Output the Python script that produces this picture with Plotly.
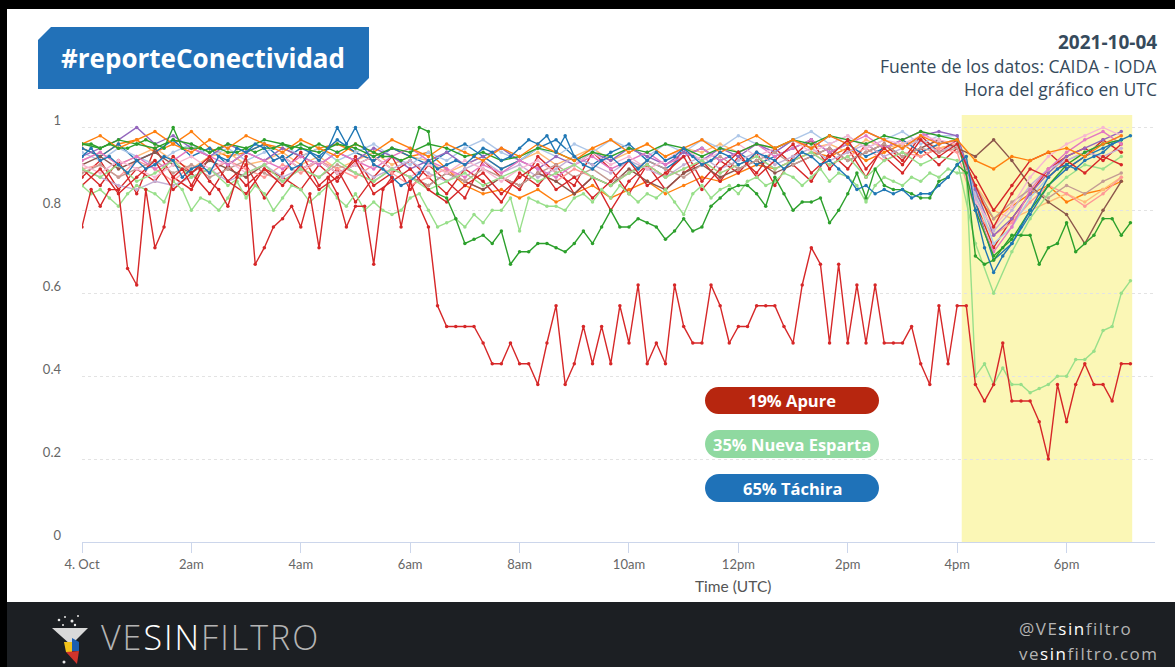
import pandas as pd
import plotly.graph_objects as go

# 10-minute samples, 2021-10-04 00:00 .. 19:10 UTC
times_10 = pd.date_range("2021-10-04 00:00", periods=116, freq="10min")
# 20-minute samples for the background states, 00:00 .. 19:00 UTC
times_20 = pd.date_range("2021-10-04 00:00", periods=58, freq="20min")

apure = [
    0.76, 0.85, 0.81, 0.85, 0.85, 0.66, 0.62, 0.85, 0.71, 0.76,
    0.88, 0.90, 0.86, 0.90, 0.87, 0.85, 0.81, 0.88, 0.93, 0.67,
    0.71, 0.76, 0.78, 0.81, 0.76, 0.84, 0.71, 0.88, 0.84, 0.76,
    0.81, 0.81, 0.67, 0.85, 0.88, 0.76, 0.87, 0.81, 0.76, 0.57,
    0.52, 0.52, 0.52, 0.52, 0.48, 0.43, 0.43, 0.48, 0.43, 0.43,
    0.38, 0.48, 0.57, 0.38, 0.43, 0.52, 0.43, 0.52, 0.43, 0.57,
    0.48, 0.62, 0.43, 0.48, 0.43, 0.62, 0.52, 0.48, 0.48, 0.62,
    0.57, 0.48, 0.52, 0.52, 0.57, 0.57, 0.57, 0.52, 0.48, 0.62,
    0.71, 0.67, 0.48, 0.67, 0.48, 0.62, 0.48, 0.62, 0.48, 0.48,
    0.48, 0.52, 0.43, 0.38, 0.57, 0.43, 0.57, 0.57, 0.38, 0.34,
    0.38, 0.48, 0.34, 0.34, 0.34, 0.29, 0.20, 0.38, 0.29, 0.38,
    0.43, 0.38, 0.38, 0.34, 0.43, 0.43,
]

nueva_esparta = [
    0.86, 0.84, 0.85, 0.83, 0.81, 0.84, 0.86, 0.85, 0.84, 0.82,
    0.87, 0.85, 0.80, 0.83, 0.82, 0.80, 0.83, 0.87, 0.83, 0.86,
    0.84, 0.80, 0.83, 0.86, 0.85, 0.82, 0.84, 0.86, 0.83, 0.81,
    0.84, 0.80, 0.82, 0.80, 0.79, 0.80, 0.83, 0.84, 0.80, 0.76,
    0.77, 0.78, 0.76, 0.79, 0.77, 0.80, 0.80, 0.83, 0.75, 0.83,
    0.82, 0.81, 0.81, 0.80, 0.83, 0.84, 0.82, 0.85, 0.83, 0.86,
    0.84, 0.82, 0.84, 0.83, 0.85, 0.82, 0.79, 0.84, 0.86, 0.83,
    0.85, 0.86, 0.84, 0.87, 0.88, 0.86, 0.87, 0.89, 0.88, 0.86,
    0.88, 0.90, 0.87, 0.89, 0.88, 0.86, 0.82, 0.86, 0.88, 0.87,
    0.86, 0.88, 0.87, 0.89, 0.88, 0.90, 0.89, 0.89, 0.40, 0.43,
    0.38, 0.42, 0.38, 0.38, 0.36, 0.37, 0.38, 0.40, 0.40, 0.44,
    0.44, 0.46, 0.51, 0.52, 0.60, 0.63,
]

tachira = [
    0.93, 0.95, 0.92, 0.93, 0.91, 0.89, 0.92, 0.90, 0.91, 0.93,
    0.92, 0.88, 0.90, 0.91, 0.89, 0.93, 0.92, 0.95, 0.94, 0.96,
    0.95, 0.92, 0.93, 0.90, 0.91, 0.94, 0.92, 0.95, 1.00, 0.96,
    1.00, 0.95, 0.91, 0.90, 0.88, 0.86, 0.87, 0.89, 0.92, 0.90,
    0.91, 0.92, 0.91, 0.93, 0.95, 0.94, 0.92, 0.93, 0.95, 0.97,
    0.96, 0.98, 0.94, 0.98, 0.93, 0.91, 0.90, 0.92, 0.93, 0.91,
    0.92, 0.90, 0.92, 0.94, 0.92, 0.93, 0.95, 0.93, 0.91, 0.92,
    0.94, 0.93, 0.91, 0.92, 0.94, 0.93, 0.92, 0.90, 0.92, 0.94,
    0.93, 0.91, 0.92, 0.90, 0.88, 0.85, 0.86, 0.84, 0.85, 0.84,
    0.85, 0.83, 0.84, 0.84, 0.86, 0.88, 0.91, 0.93, 0.80, 0.71,
    0.65, 0.69, 0.72, 0.76, 0.80, 0.84, 0.88, 0.90, 0.91, 0.90,
    0.92, 0.93, 0.94, 0.96, 0.97, 0.98,
]

dark_green = [
    0.96, 0.96, 0.95, 0.96, 0.95, 0.95, 0.96, 0.97, 0.96, 0.95,
    1.00, 0.95, 0.95, 0.95, 0.94, 0.95, 0.94, 0.94, 0.95, 0.94,
    0.95, 0.95, 0.96, 0.95, 0.96, 0.95, 0.96, 0.95, 0.94, 0.95,
    0.96, 0.95, 0.94, 0.93, 0.93, 0.92, 0.93, 1.00, 0.99, 0.84,
    0.83, 0.78, 0.72, 0.73, 0.74, 0.72, 0.75, 0.67, 0.70, 0.70,
    0.72, 0.72, 0.71, 0.70, 0.72, 0.75, 0.72, 0.76, 0.80, 0.76,
    0.76, 0.78, 0.77, 0.76, 0.73, 0.75, 0.78, 0.75, 0.76, 0.81,
    0.83, 0.85, 0.86, 0.86, 0.84, 0.81, 0.88, 0.84, 0.80, 0.82,
    0.82, 0.83, 0.77, 0.80, 0.84, 0.89, 0.83, 0.90, 0.86, 0.85,
    0.85, 0.84, 0.83, 0.83, 0.87, 0.88, 0.91, 0.89, 0.69, 0.67,
    0.68, 0.71, 0.74, 0.74, 0.74, 0.67, 0.71, 0.72, 0.77, 0.70,
    0.72, 0.74, 0.78, 0.78, 0.74, 0.77,
]

# other states, 20-minute resolution
background = [
    ("#ff7f0e", [
        0.95, 0.93, 0.96, 0.97, 0.94, 0.96, 0.99, 0.95, 0.93, 0.94, 0.96, 0.95,
        0.93, 0.95, 0.96, 0.94, 0.92, 0.95, 0.93, 0.94, 0.90, 0.86, 0.84, 0.85,
        0.83, 0.85, 0.82, 0.84, 0.86, 0.83, 0.85, 0.87, 0.84, 0.86, 0.88, 0.87,
        0.89, 0.91, 0.90, 0.92, 0.94, 0.93, 0.95, 0.92, 0.94, 0.96, 0.93, 0.95,
        0.96, 0.84, 0.78, 0.81, 0.84, 0.86, 0.82, 0.84, 0.85, 0.87]),
    ("#ffbb78", [
        0.92, 0.94, 0.91, 0.93, 0.95, 0.92, 0.90, 0.93, 0.94, 0.91, 0.92, 0.94,
        0.91, 0.93, 0.90, 0.92, 0.94, 0.91, 0.93, 0.92, 0.89, 0.91, 0.93, 0.90,
        0.92, 0.94, 0.91, 0.93, 0.95, 0.92, 0.94, 0.96, 0.93, 0.95, 0.94, 0.96,
        0.94, 0.96, 0.95, 0.97, 0.95, 0.96, 0.94, 0.97, 0.95, 0.96, 0.97, 0.95,
        0.96, 0.86, 0.80, 0.78, 0.80, 0.82, 0.84, 0.82, 0.85, 0.88]),
    ("#d62728", [
        0.90, 0.86, 0.92, 0.84, 0.95, 0.88, 0.85, 0.93, 0.87, 0.91, 0.83, 0.89,
        0.94, 0.86, 0.90, 0.82, 0.88, 0.93, 0.85, 0.91, 0.87, 0.83, 0.92, 0.88,
        0.85, 0.93, 0.89, 0.86, 0.94, 0.90, 0.84, 0.91, 0.88, 0.95, 0.87, 0.92,
        0.89, 0.94, 0.86, 0.93, 0.97, 0.90, 0.95, 0.88, 0.96, 0.92, 0.98, 0.94,
        0.97, 0.82, 0.71, 0.78, 0.84, 0.90, 0.93, 0.95, 0.92, 0.96]),
    ("#d62728", [
        0.88, 0.92, 0.85, 0.90, 0.87, 0.93, 0.89, 0.84, 0.91, 0.86, 0.90, 0.88,
        0.85, 0.91, 0.87, 0.93, 0.86, 0.89, 0.92, 0.88, 0.84, 0.90, 0.87, 0.82,
        0.89, 0.86, 0.91, 0.84, 0.88, 0.80, 0.87, 0.91, 0.85, 0.89, 0.92, 0.87,
        0.93, 0.89, 0.95, 0.91, 0.87, 0.94, 0.90, 0.96, 0.93, 0.89, 0.95, 0.91,
        0.95, 0.88, 0.80, 0.86, 0.92, 0.94, 0.90, 0.93, 0.97, 0.94]),
    ("#ff9896", [
        0.90, 0.91, 0.88, 0.92, 0.90, 0.87, 0.91, 0.89, 0.92, 0.90, 0.88, 0.91,
        0.89, 0.92, 0.90, 0.88, 0.91, 0.89, 0.86, 0.88, 0.90, 0.87, 0.85, 0.88,
        0.86, 0.89, 0.87, 0.90, 0.88, 0.86, 0.89, 0.91, 0.88, 0.90, 0.92, 0.89,
        0.91, 0.93, 0.90, 0.92, 0.94, 0.91, 0.93, 0.95, 0.92, 0.94, 0.93, 0.95,
        0.94, 0.80, 0.74, 0.77, 0.82, 0.86, 0.84, 0.81, 0.84, 0.88]),
    ("#1f77b4", [
        0.95, 0.93, 0.96, 0.92, 0.94, 0.97, 0.93, 0.95, 0.91, 0.94, 0.96, 0.92,
        0.95, 0.93, 0.97, 0.94, 0.92, 0.95, 0.93, 0.91, 0.94, 0.96, 0.93, 0.90,
        0.92, 0.95, 0.97, 0.93, 0.91, 0.94, 0.96, 0.92, 0.90, 0.93, 0.95, 0.92,
        0.94, 0.91, 0.93, 0.95, 0.97, 0.94, 0.96, 0.93, 0.95, 0.97, 0.94, 0.96,
        0.97, 0.82, 0.68, 0.72, 0.79, 0.86, 0.90, 0.93, 0.95, 0.97]),
    ("#aec7e8", [
        0.94, 0.92, 0.95, 0.93, 0.91, 0.94, 0.96, 0.93, 0.95, 0.92, 0.94, 0.96,
        0.93, 0.95, 0.92, 0.94, 0.96, 0.93, 0.91, 0.94, 0.92, 0.95, 0.97, 0.94,
        0.92, 0.95, 0.93, 0.96, 0.94, 0.97, 0.95, 0.93, 0.96, 0.94, 0.97, 0.95,
        0.98, 0.96, 0.94, 0.97, 0.99, 0.96, 0.98, 0.95, 0.97, 0.99, 0.96, 0.98,
        0.98, 0.84, 0.72, 0.76, 0.83, 0.88, 0.92, 0.94, 0.96, 0.98]),
    ("#9467bd", [
        0.93, 0.95, 0.97, 1.00, 0.96, 0.98, 0.95, 0.93, 0.96, 0.94, 0.92, 0.95,
        0.93, 0.91, 0.94, 0.92, 0.95, 0.93, 0.90, 0.92, 0.94, 0.91, 0.93, 0.95,
        0.92, 0.90, 0.93, 0.91, 0.94, 0.92, 0.95, 0.93, 0.91, 0.94, 0.92, 0.95,
        0.93, 0.96, 0.94, 0.97, 0.95, 0.98, 0.96, 0.99, 0.97, 0.95, 0.98, 0.99,
        0.98, 0.85, 0.74, 0.78, 0.84, 0.89, 0.93, 0.95, 0.97, 0.99]),
    ("#c5b0d5", [
        0.90, 0.88, 0.86, 0.85, 0.87, 0.86, 0.88, 0.90, 0.87, 0.89, 0.91, 0.88,
        0.90, 0.92, 0.89, 0.91, 0.88, 0.90, 0.92, 0.89, 0.87, 0.90, 0.92, 0.89,
        0.91, 0.88, 0.90, 0.93, 0.91, 0.89, 0.92, 0.90, 0.88, 0.91, 0.93, 0.90,
        0.92, 0.94, 0.91, 0.93, 0.95, 0.92, 0.94, 0.96, 0.93, 0.95, 0.97, 0.94,
        0.96, 0.83, 0.75, 0.80, 0.86, 0.90, 0.92, 0.94, 0.93, 0.95]),
    ("#8c564b", [
        0.91, 0.93, 0.90, 0.92, 0.94, 0.91, 0.89, 0.92, 0.90, 0.88, 0.91, 0.93,
        0.90, 0.92, 0.89, 0.91, 0.93, 0.90, 0.88, 0.86, 0.89, 0.87, 0.85, 0.88,
        0.86, 0.89, 0.87, 0.84, 0.88, 0.86, 0.90, 0.87, 0.85, 0.89, 0.91, 0.88,
        0.90, 0.92, 0.89, 0.91, 0.93, 0.95, 0.92, 0.94, 0.96, 0.93, 0.95, 0.97,
        0.95, 0.93, 0.97, 0.92, 0.86, 0.82, 0.79, 0.72, 0.80, 0.87]),
    ("#c49c94", [
        0.89, 0.91, 0.88, 0.90, 0.92, 0.89, 0.91, 0.88, 0.90, 0.92, 0.89, 0.87,
        0.90, 0.88, 0.91, 0.89, 0.87, 0.90, 0.88, 0.86, 0.89, 0.87, 0.90, 0.88,
        0.86, 0.89, 0.91, 0.88, 0.90, 0.87, 0.89, 0.92, 0.90, 0.88, 0.91, 0.93,
        0.90, 0.92, 0.94, 0.91, 0.93, 0.95, 0.92, 0.94, 0.96, 0.93, 0.95, 0.94,
        0.95, 0.86, 0.78, 0.82, 0.85, 0.83, 0.86, 0.84, 0.87, 0.89]),
    ("#e377c2", [
        0.92, 0.94, 0.91, 0.93, 0.90, 0.92, 0.95, 0.93, 0.91, 0.94, 0.92, 0.90,
        0.93, 0.91, 0.94, 0.92, 0.90, 0.93, 0.95, 0.92, 0.90, 0.88, 0.91, 0.89,
        0.92, 0.90, 0.88, 0.91, 0.93, 0.90, 0.92, 0.94, 0.91, 0.93, 0.95, 0.92,
        0.94, 0.96, 0.93, 0.95, 0.97, 0.94, 0.96, 0.98, 0.95, 0.97, 0.99, 0.96,
        0.97, 0.80, 0.70, 0.76, 0.85, 0.90, 0.94, 0.97, 0.99, 0.96]),
    ("#f7b6d2", [
        0.91, 0.89, 0.92, 0.90, 0.88, 0.91, 0.93, 0.90, 0.92, 0.89, 0.91, 0.93,
        0.90, 0.92, 0.89, 0.91, 0.93, 0.90, 0.88, 0.91, 0.89, 0.92, 0.90, 0.87,
        0.90, 0.92, 0.89, 0.91, 0.94, 0.91, 0.93, 0.90, 0.92, 0.95, 0.92, 0.94,
        0.96, 0.93, 0.95, 0.97, 0.94, 0.96, 0.98, 0.95, 0.97, 0.96, 0.98, 0.97,
        0.96, 0.82, 0.76, 0.81, 0.88, 0.93, 0.96, 0.98, 1.00, 0.98]),
    ("#2ca02c", [
        0.96, 0.95, 0.97, 0.96, 0.95, 0.97, 0.96, 0.94, 0.96, 0.95, 0.97, 0.96,
        0.95, 0.94, 0.96, 0.95, 0.93, 0.95, 0.94, 0.96, 0.95, 0.93, 0.94, 0.92,
        0.93, 0.95, 0.94, 0.92, 0.94, 0.93, 0.95, 0.94, 0.96, 0.95, 0.93, 0.95,
        0.94, 0.96, 0.95, 0.97, 0.96, 0.98, 0.97, 0.96, 0.98, 0.97, 0.99, 0.98,
        0.97, 0.80, 0.69, 0.73, 0.80, 0.86, 0.91, 0.94, 0.96, 0.97]),
    ("#98df8a", [
        0.90, 0.88, 0.91, 0.87, 0.89, 0.92, 0.88, 0.90, 0.86, 0.89, 0.91, 0.87,
        0.90, 0.88, 0.92, 0.89, 0.87, 0.90, 0.88, 0.85, 0.87, 0.89, 0.86, 0.88,
        0.90, 0.87, 0.89, 0.91, 0.88, 0.86, 0.89, 0.91, 0.88, 0.90, 0.92, 0.89,
        0.91, 0.93, 0.90, 0.92, 0.94, 0.91, 0.93, 0.88, 0.92, 0.94, 0.91, 0.93,
        0.92, 0.72, 0.60, 0.70, 0.78, 0.84, 0.88, 0.91, 0.90, 0.93]),
    ("#ff7f0e", [
        0.96, 0.98, 0.95, 0.97, 0.99, 0.96, 0.94, 0.97, 0.95, 0.98, 0.96, 0.94,
        0.97, 0.95, 0.93, 0.96, 0.94, 0.97, 0.95, 0.93, 0.96, 0.94, 0.92, 0.95,
        0.93, 0.96, 0.94, 0.92, 0.95, 0.97, 0.94, 0.96, 0.93, 0.95, 0.97, 0.94,
        0.96, 0.98, 0.95, 0.97, 0.95, 0.98, 0.96, 0.99, 0.97, 0.95, 0.98, 0.96,
        0.97, 0.92, 0.90, 0.93, 0.92, 0.94, 0.95, 0.93, 0.96, 0.98]),
    ("#d62728", [
        0.86, 0.90, 0.84, 0.88, 0.92, 0.85, 0.89, 0.93, 0.87, 0.84, 0.90, 0.86,
        0.91, 0.85, 0.88, 0.92, 0.84, 0.87, 0.90, 0.85, 0.82, 0.86, 0.89, 0.84,
        0.88, 0.91, 0.85, 0.88, 0.83, 0.87, 0.92, 0.86, 0.89, 0.93, 0.85, 0.90,
        0.94, 0.88, 0.92, 0.96, 0.89, 0.93, 0.97, 0.90, 0.95, 0.91, 0.97, 0.93,
        0.96, 0.86, 0.76, 0.84, 0.90, 0.88, 0.92, 0.89, 0.93, 0.91]),
]

x_ticks = pd.date_range("2021-10-04 00:00", periods=10, freq="2h")
x_tick_labels = ["4. Oct", "2am", "4am", "6am", "8am", "10am", "12pm", "2pm", "4pm", "6pm"]
y_ticks = [0, 0.2, 0.4, 0.6, 0.8, 1]
y_tick_labels = ["0", "0.2", "0.4", "0.6", "0.8", "1"]

pills = [
    ("19% Apure", "#b7260f"),
    ("35% Nueva Esparta", "#8fd9a0"),
    ("65% Táchira", "#1f72b8"),
]

W, H = 1175, 667
L, R, T, B = 82, 20, 115, 125
PW, PH = W - L - R, H - T - B


def px(x):
    return (x - L) / PW


def py(y):
    return (H - B - y) / PH


def path(points):
    return "M " + " L ".join(f"{px(x):.5f},{py(y):.5f}" for x, y in points) + " Z"


def pill_path(x0, x1, y0, y1):
    r = (y1 - y0) / 2
    k = 0.5523 * r
    ym = (y0 + y1) / 2
    p = lambda x, y: f"{px(x):.5f},{py(y):.5f}"
    return (
        f"M {p(x0 + r, y0)} L {p(x1 - r, y0)} "
        f"C {p(x1 - r + k, y0)} {p(x1, ym - k)} {p(x1, ym)} "
        f"C {p(x1, ym + k)} {p(x1 - r + k, y1)} {p(x1 - r, y1)} "
        f"L {p(x0 + r, y1)} "
        f"C {p(x0 + r - k, y1)} {p(x0, ym + k)} {p(x0, ym)} "
        f"C {p(x0, ym - k)} {p(x0 + r - k, y0)} {p(x0 + r, y0)} Z"
    )


fig = go.Figure()

line_style = dict(mode="lines+markers", hoverinfo="skip", showlegend=False)
for color, values in background:
    fig.add_trace(go.Scatter(
        x=times_20, y=values, line=dict(color=color, width=1.4),
        marker=dict(size=3.5, color=color), **line_style))

for name, values, color in [
    ("Nueva Esparta", nueva_esparta, "#98df8a"),
    ("Dark green", dark_green, "#2ca02c"),
    ("Táchira", tachira, "#1f77b4"),
    ("Apure", apure, "#d62728"),
]:
    fig.add_trace(go.Scatter(
        x=times_10, y=values, name=name, line=dict(color=color, width=1.4),
        marker=dict(size=3.5, color=color), **line_style))

fig.add_vrect(x0="2021-10-04 16:05", x1="2021-10-04 19:12",
              fillcolor="#fbf7b6", line_width=0, layer="below")

shapes = [
    # frame edges and footer
    dict(type="rect", x0=px(0), x1=px(W), y0=py(9), y1=py(0), fillcolor="#000000"),
    dict(type="rect", x0=px(0), x1=px(7), y0=py(H), y1=py(0), fillcolor="#000000"),
    dict(type="rect", x0=px(7), x1=px(W), y0=py(H), y1=py(602), fillcolor="#1c1f23"),
    # title badge
    dict(type="path", path=path([(51, 27), (369, 27), (369, 78), (358, 89), (38, 89), (38, 40)]),
         fillcolor="#2271b8"),
    # logo funnel
    dict(type="path", path=path([(52, 628), (88, 628), (71, 645)]), fillcolor="#d9d9d9"),
    dict(type="path", path=path([(72, 638), (79, 642), (79, 651), (72, 651)]), fillcolor="#1d5fb0"),
    dict(type="path", path=path([(64, 642), (72, 642), (72, 652), (66, 652)]), fillcolor="#f2c21b"),
    dict(type="path", path=path([(66, 652), (79, 651), (77, 664)]), fillcolor="#d0342c"),
]
for cx, cy, r in [(59, 620, 1.3), (65, 617, 1.0), (72, 621, 1.5), (78, 616, 1.0),
                  (75, 625, 1.2), (63, 625, 1.0), (64, 662, 1.5)]:
    shapes.append(dict(type="circle", x0=px(cx - r), x1=px(cx + r), y0=py(cy + r), y1=py(cy - r),
                       fillcolor="#e8e8e8"))

pill_rows = [(387, 414), (430, 458), (474, 502)]
for (label, color), (y0, y1) in zip(pills, pill_rows):
    shapes.append(dict(type="path", path=pill_path(705, 879, y0, y1), fillcolor=color))

for s in shapes:
    s.update(xref="paper", yref="paper", line=dict(width=0), layer="above")
    fig.add_shape(**s)

gray, white, slate = "#b4b4b4", "#ffffff", "#364a5c"
annotations = [
    dict(x=px(203), y=py(58), text="<b>#reporteConectividad</b>", xanchor="center",
         font=dict(family="Open Sans", size=26, color="#ffffff")),
    dict(x=px(1159), y=py(42), text="<b>2021-10-04</b>", xanchor="right",
         font=dict(family="Open Sans", size=19, color=slate)),
    dict(x=px(1159), y=py(66), text="Fuente de los datos: CAIDA - IODA", xanchor="right",
         font=dict(family="Open Sans", size=17.5, color=slate)),
    dict(x=px(1159), y=py(89), text="Hora del gráfico en UTC", xanchor="right",
         font=dict(family="Open Sans", size=17.5, color=slate)),
    dict(x=px(733), y=py(586), text="Time (UTC)", xanchor="center",
         font=dict(family="Lato", size=15.5, color="#555555")),
    dict(x=px(99), y=py(637), xanchor="left",
         text=f"<span style='letter-spacing:2px;color:{gray}'>VE</span>"
              f"<span style='letter-spacing:2px;color:{white}'>SIN</span>"
              f"<span style='letter-spacing:2px;color:{gray}'>FILTRO</span>",
         font=dict(family="Open Sans", size=34, weight=300, color=gray)),
    dict(x=px(1017), y=py(628), xanchor="left",
         text=f"<span style='letter-spacing:1.5px;color:{gray}'>@VE</span>"
              f"<span style='letter-spacing:1.5px;color:{white}'>sin</span>"
              f"<span style='letter-spacing:1.5px;color:{gray}'>filtro</span>",
         font=dict(family="Open Sans", size=17, color=gray)),
    dict(x=px(1017), y=py(653), xanchor="left",
         text=f"<span style='letter-spacing:1.5px;color:{gray}'>ve</span>"
              f"<span style='letter-spacing:1.5px;color:{white}'>sin</span>"
              f"<span style='letter-spacing:1.5px;color:{gray}'>filtro.com</span>",
         font=dict(family="Open Sans", size=17, color=gray)),
]
for (label, color), (y0, y1) in zip(pills, pill_rows):
    annotations.append(dict(x=px(792), y=py((y0 + y1) / 2), text=f"<b>{label}</b>",
                            xanchor="center", font=dict(family="Open Sans", size=16.5, color="#ffffff")))
for a in annotations:
    a.update(xref="paper", yref="paper", showarrow=False, yanchor="middle")
    fig.add_annotation(**a)

fig.update_layout(
    width=W, height=H,
    margin=dict(l=L, r=R, t=T, b=B),
    paper_bgcolor="#ffffff", plot_bgcolor="#ffffff",
    font=dict(family="Lato", color="#666666"),
    showlegend=False,
)
fig.update_xaxes(
    type="date", range=["2021-10-04 00:00", "2021-10-04 19:37"],
    tickvals=x_ticks, ticktext=x_tick_labels, tickfont=dict(size=13, color="#666666"),
    showgrid=False, showline=True, linecolor="#ccd6eb", linewidth=1,
    ticks="outside", ticklen=10, tickcolor="#ccd6eb",
    zeroline=False, fixedrange=True,
)
fig.update_yaxes(
    range=[0, 1.03], tickvals=y_ticks, ticktext=y_tick_labels,
    tickfont=dict(size=13, color="#666666"), ticklabelstandoff=20, ticklabelshift=-7,
    showgrid=True, gridcolor="#e3e3e3", griddash="dot", zeroline=False,
    fixedrange=True,
)

fig.write_html("out.html", config={"displayModeBar": False},
               post_script="document.body.style.margin='0';")
